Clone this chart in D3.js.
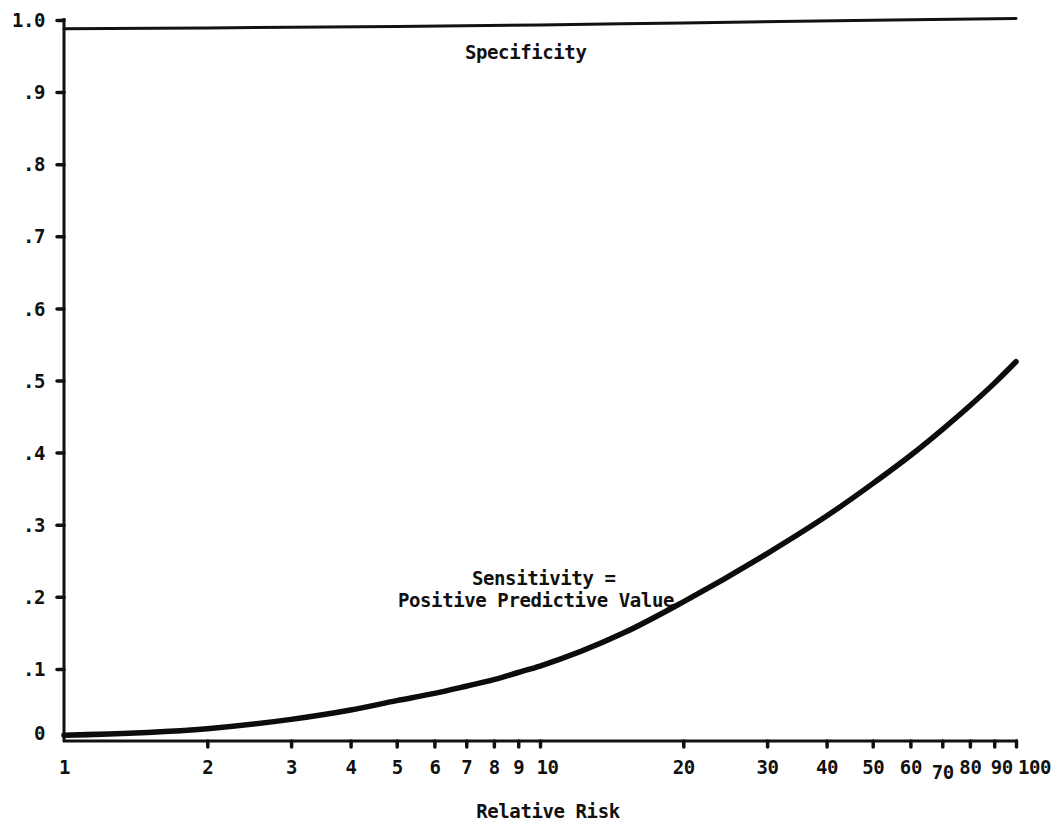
<!DOCTYPE html>
<html>
<head>
<meta charset="utf-8">
<script src="https://cdn.jsdelivr.net/npm/d3@7"></script>
<style>
body{margin:0;background:#fff;}
svg text{font-family:"DejaVu Sans Mono",monospace;font-weight:bold;font-size:19px;letter-spacing:-0.4px;fill:#111;}
</style>
</head>
<body>
<svg id="chart" width="1053" height="822"></svg>
<script>
// relative risk ticks (log axis) and proportion ticks
var riskTicks=[1,2,3,4,5,6,7,8,9,10,20,30,40,50,60,70,80,90,100];
var yTicks=[0,.1,.2,.3,.4,.5,.6,.7,.8,.9,1];
var yTickLabels=['0','.1','.2','.3','.4','.5','.6','.7','.8','.9','1.0'];

// sensitivity = positive predictive value
var sensRisk =[1,2,3,4,5,6,7,8,9,10,15,20,30,40,50,60,70,80,90,100];
var sensValue=[.008,.017,.030,.043,.056,.066,.076,.085,.095,.104,.150,.193,.260,.312,.357,.396,.432,.465,.496,.526];

// specificity, nearly flat just under 1.0
var specRisk =[1,2,5,10,20,50,100];
var specValue=[.988,.989,.991,.993,.996,.9995,1.002];

var svg=d3.select('#chart');
var x=d3.scaleLog().domain([1,100]).range([64,1016]);
var y=d3.scaleLinear().domain([0,1]).range([741,20]);

/* ── x axis ── */
var shiftX={10:7,90:7,100:18};
var gx=svg.append('g').attr('transform','translate(0,'+y(0)+')')
  .call(d3.axisBottom(x).tickValues(riskTicks).tickFormat(d3.format('d')).tickSize(6).tickSizeOuter(0).tickPadding(14));
gx.select('.domain').attr('stroke','#111').attr('stroke-width',3).attr('d','M'+(x(1)-1)+',0H'+(x(100)+2));
gx.selectAll('.tick line').attr('stroke','#111').attr('stroke-width',3.5).attr('stroke-linecap','round')
  .attr('display',function(d){return d===1?'none':null;});
gx.selectAll('.tick text').attr('font-size',null).attr('font-family',null)
  .attr('dx',function(d){return shiftX[d]||0;})
  .attr('y',function(d){return d===70?25:20;});

/* ── y axis ── */
var gy=svg.append('g').attr('transform','translate('+x(1)+',0)')
  .call(d3.axisLeft(y).tickValues(yTicks).tickFormat(function(d,i){return yTickLabels[i];}).tickSize(7).tickSizeOuter(0).tickPadding(12));
gy.select('.domain').attr('stroke','#111').attr('stroke-width',3).attr('d','M0,'+(y(0)+1)+'V18');
gy.selectAll('.tick line').attr('stroke','#111').attr('stroke-width',3.5).attr('stroke-linecap','round')
  .attr('display',function(d){return d===0?'none':null;});
gy.selectAll('.tick text').attr('font-size',null).attr('font-family',null)
  .attr('dy',function(d){return d===0?'-0.1em':'0.35em';});

/* ── curves ── */
var line=d3.line().x(function(d){return x(d[0]);}).y(function(d){return y(d[1]);}).curve(d3.curveMonotoneX);

svg.append('path')
  .datum(specRisk.map(function(r,i){return [r,specValue[i]];}))
  .attr('d',line).attr('fill','none').attr('stroke','#111').attr('stroke-width',3).attr('stroke-linecap','round');

svg.append('path')
  .datum(sensRisk.map(function(r,i){return [r,sensValue[i]];}))
  .attr('d',line).attr('fill','none').attr('stroke','#0c0c0c').attr('stroke-width',5.5).attr('stroke-linecap','round');

/* ── labels ── */
svg.append('text').attr('x',465).attr('y',59).text('Specificity');
svg.append('text').attr('x',472).attr('y',585).text('Sensitivity =');
svg.append('text').attr('x',398).attr('y',607).text('Positive Predictive Value');
svg.append('text').attr('x',548).attr('y',818).attr('text-anchor','middle').text('Relative Risk');
</script>
</body>
</html>
